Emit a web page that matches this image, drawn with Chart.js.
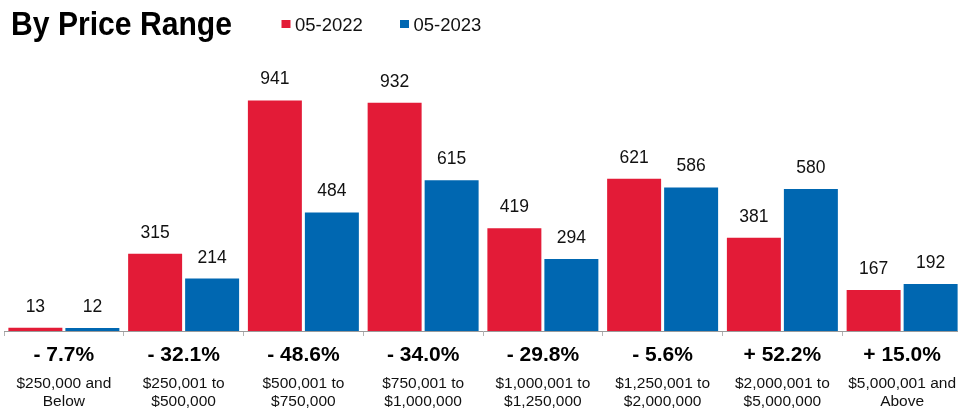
<!DOCTYPE html>
<html>
<head>
<meta charset="utf-8">
<script src="https://cdn.jsdelivr.net/npm/chart.js@4.4.1/dist/chart.umd.min.js"></script>
<style>
  html, body { margin: 0; padding: 0; background: #fff; overflow: hidden; }
  #wrap { position: relative; width: 962px; height: 416px; }
</style>
</head>
<body>
<div id="wrap"><canvas id="c"></canvas></div>
<script>
// ---- data ----
const categories = [
  ['$250,000 and', 'Below'],
  ['$250,001 to', '$500,000'],
  ['$500,001 to', '$750,000'],
  ['$750,001 to', '$1,000,000'],
  ['$1,000,001 to', '$1,250,000'],
  ['$1,250,001 to', '$2,000,000'],
  ['$2,000,001 to', '$5,000,000'],
  ['$5,000,001 and', 'Above']
];
const pctChange = ['- 7.7%', '- 32.1%', '- 48.6%', '- 34.0%', '- 29.8%', '- 5.6%', '+ 52.2%', '+ 15.0%'];
const series2022 = [13, 315, 941, 932, 419, 621, 381, 167];
const series2023 = [12, 214, 484, 615, 294, 586, 580, 192];
const seriesNames = ['05-2022', '05-2023'];
const titleText = 'By Price Range';

const RED = '#E31B37';
const BLUE = '#0067B1';
const SANS = '"Liberation Sans", Arial, Helvetica, sans-serif';

const headerPlugin = {
  id: 'header',
  afterDraw(chart) {
    const ctx = chart.ctx;
    ctx.save();
    ctx.fillStyle = '#000';
    ctx.textBaseline = 'alphabetic';
    ctx.textAlign = 'left';
    ctx.font = 'bold 34px ' + SANS;
    const w = ctx.measureText(titleText).width;
    const sx = 221 / w;
    ctx.save();
    ctx.translate(11, 34.5);
    ctx.scale(sx, 1);
    ctx.fillText(titleText, 0, 0);
    ctx.restore();
    // legend
    ctx.font = '18.5px ' + SANS;
    chart.data.datasets.forEach((ds, i) => {
      const x0 = i === 0 ? 281.5 : 400;
      ctx.fillStyle = ds.backgroundColor;
      ctx.fillRect(x0, 20, 9, 8);
      ctx.fillStyle = '#111';
      ctx.fillText(ds.label, x0 + 13.5, 31);
    });
    ctx.restore();
  }
};

const valueLabelPlugin = {
  id: 'valueLabels',
  afterDatasetsDraw(chart) {
    const ctx = chart.ctx;
    ctx.save();
    ctx.font = '17.5px ' + SANS;
    ctx.fillStyle = '#111';
    ctx.textAlign = 'center';
    ctx.textBaseline = 'alphabetic';
    chart.data.datasets.forEach((ds, di) => {
      const meta = chart.getDatasetMeta(di);
      meta.data.forEach((bar, i) => {
        ctx.fillText(String(ds.data[i]), bar.x, bar.y - 16);
      });
    });
    ctx.restore();
  }
};

new Chart(document.getElementById('c'), {
  type: 'bar',
  data: {
    labels: pctChange,
    datasets: [
      { label: seriesNames[0], data: series2022, backgroundColor: RED },
      { label: seriesNames[1], data: series2023, backgroundColor: BLUE }
    ]
  },
  options: {
    responsive: true,
    maintainAspectRatio: false,
    animation: false,
    devicePixelRatio: 1,
    layout: { padding: { top: 86, left: 4, right: 0, bottom: 0 } },
    datasets: { bar: { categoryPercentage: 0.952, barPercentage: 0.947 } },
    plugins: { legend: { display: false }, title: { display: false }, tooltip: { enabled: false } },
    scales: {
      y: { display: false, min: 0, max: 1000 },
      x: {
        position: 'bottom',
        grid: { offset: true, drawOnChartArea: false, drawTicks: true, tickLength: 5, color: '#b5b5b5' },
        border: { display: true, color: '#9a9a9a', width: 1 },
        ticks: { color: '#000', padding: 7, maxRotation: 0, autoSkip: false,
                 font: { family: SANS, size: 21, weight: 'bold', lineHeight: 1.2 } },
        afterFit(scale) { scale.height = 42; }
      },
      x2: {
        type: 'category',
        position: 'bottom',
        labels: categories,
        offset: true,
        grid: { display: false, drawTicks: false },
        border: { display: false },
        ticks: { color: '#111', padding: 2, maxRotation: 0, autoSkip: false,
                 font: { family: SANS, size: 15.5, lineHeight: '17.5px' } },
        afterFit(scale) { scale.height = 43; }
      }
    }
  },
  plugins: [headerPlugin, valueLabelPlugin]
});
</script>
</body>
</html>
